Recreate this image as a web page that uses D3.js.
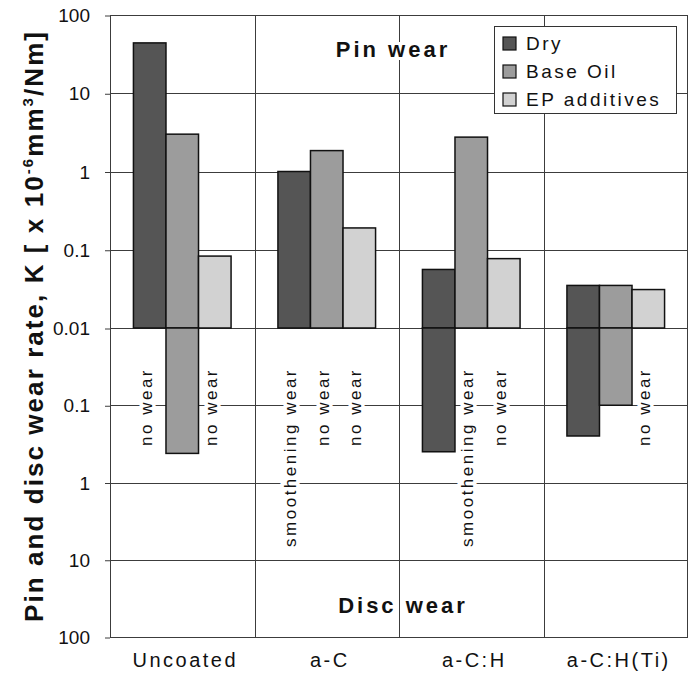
<!DOCTYPE html>
<html>
<head>
<meta charset="utf-8">
<script src="https://cdn.jsdelivr.net/npm/d3@7"></script>
<style>
  body { margin: 0; background: #fff; }
  text { font-family: "Liberation Sans", Arial, Helvetica, sans-serif; fill: #111; }
</style>
</head>
<body>
<svg id="chart" width="689" height="675"></svg>
<script>
// Coatings along the x axis, lubrication conditions as series
var coatings = ["Uncoated", "a-C", "a-C:H", "a-C:H(Ti)"];
var series = ["Dry", "Base Oil", "EP additives"];
var seriesColors = ["#555555", "#9c9c9c", "#d2d2d2"];

// Pin wear rates (x 10^-6 mm^3/Nm), one row per coating
var pinWear = [
    [44, 3.0, 0.083],
    [1.0, 1.85, 0.19],
    [0.056, 2.75, 0.077],
    [0.035, 0.035, 0.031]
];

// Disc wear rates, null where there was no measurable wear
var discWear = [
    [null, 0.42, null],
    [null, null, null],
    [0.40, null, null],
    [0.25, 0.10, null]
];

// Notes written into the disc half
var discNotes = [
    ["no wear", null, "no wear"],
    ["smoothening wear", "no wear", "no wear"],
    [null, "smoothening wear", "no wear"],
    [null, null, "no wear"]
];

var pinTicks = [0.01, 0.1, 1, 10, 100];
var discTicks = [0.1, 1, 10, 100];

var svg = d3.select("#chart");
var plotLeft = 110, plotRight = 688, plotTop = 15, plotMid = 328, plotBottom = 637;

var x0 = d3.scaleBand().domain(coatings).range([plotLeft, plotRight]);
var x1 = d3.scaleBand().domain(series).range([0, x0.bandwidth()]).paddingOuter(0.72);
var color = d3.scaleOrdinal().domain(series).range(seriesColors);

var yPin = d3.scaleLog().domain([0.01, 100]).range([plotMid, plotTop]);
var yDisc = d3.scaleLog().domain([0.01, 100]).range([plotMid, plotBottom]);

function fmt(d) { return d3.format("~g")(d); }

// Horizontal grid lines
var grid = svg.append("g").attr("stroke", "#3c3c3c").attr("stroke-width", 1);
grid.selectAll("line.pin")
    .data(pinTicks)
    .enter().append("line")
    .attr("x1", plotLeft).attr("x2", plotRight)
    .attr("y1", function(d) { return Math.round(yPin(d)) + 0.5; })
    .attr("y2", function(d) { return Math.round(yPin(d)) + 0.5; });
grid.selectAll("line.disc")
    .data(discTicks)
    .enter().append("line")
    .attr("x1", plotLeft).attr("x2", plotRight)
    .attr("y1", function(d) { return Math.round(yDisc(d)) + 0.5; })
    .attr("y2", function(d) { return Math.round(yDisc(d)) + 0.5; });

// Vertical dividers between coatings
grid.selectAll("line.div")
    .data(coatings.slice(1))
    .enter().append("line")
    .attr("x1", function(d) { return Math.round(x0(d)) + 0.5; })
    .attr("x2", function(d) { return Math.round(x0(d)) + 0.5; })
    .attr("y1", plotTop).attr("y2", plotBottom);

// Plot frame
svg.append("rect")
    .attr("x", plotLeft + 0.5).attr("y", plotTop + 0.5)
    .attr("width", plotRight - plotLeft - 1).attr("height", plotBottom - plotTop)
    .attr("fill", "none").attr("stroke", "#3c3c3c");

// Y axes (ticks + labels)
var axisPin = d3.axisLeft(yPin).tickValues(pinTicks).tickFormat(fmt).tickSize(5).tickPadding(15);
var axisDisc = d3.axisLeft(yDisc).tickValues(discTicks).tickFormat(fmt).tickSize(5).tickPadding(15);
[axisPin, axisDisc].forEach(function(ax) {
    var g = svg.append("g").attr("transform", "translate(" + plotLeft + ",0.5)").call(ax);
    g.select(".domain").remove();
    g.selectAll("line").attr("stroke", "#3c3c3c");
    g.selectAll("text")
        .style("font-family", "'Liberation Sans', Arial, sans-serif")
        .style("font-size", "19px").attr("fill", "#222");
});

// Groups for each coating
var groups = svg.selectAll("g.coat")
    .data(coatings)
    .enter().append("g")
    .attr("class", "coat")
    .attr("transform", function(d) { return "translate(" + x0(d) + ",0)"; });

// Pin wear bars (upwards)
groups.selectAll("rect.pin")
    .data(function(d, i) { return series.map(function(s, j) { return {s: s, v: pinWear[i][j]}; }); })
    .enter().append("rect")
    .attr("x", function(d) { return x1(d.s); })
    .attr("width", x1.bandwidth())
    .attr("y", function(d) { return yPin(d.v); })
    .attr("height", function(d) { return yPin(0.01) - yPin(d.v); })
    .attr("fill", function(d) { return color(d.s); })
    .attr("stroke", "#111").attr("stroke-width", 1.5);

// Disc wear bars (downwards)
groups.selectAll("rect.disc")
    .data(function(d, i) {
        return series.map(function(s, j) { return {s: s, v: discWear[i][j]}; })
            .filter(function(e) { return e.v != null; });
    })
    .enter().append("rect")
    .attr("x", function(d) { return x1(d.s); })
    .attr("width", x1.bandwidth())
    .attr("y", yDisc(0.01))
    .attr("height", function(d) { return yDisc(d.v) - yDisc(0.01); })
    .attr("fill", function(d) { return color(d.s); })
    .attr("stroke", "#111").attr("stroke-width", 1.5);

// Rotated notes in the disc half
groups.selectAll("text.note")
    .data(function(d, i) {
        return series.map(function(s, j) { return {s: s, t: discNotes[i][j]}; })
            .filter(function(e) { return e.t != null; });
    })
    .enter().append("text")
    .attr("transform", function(d) {
        return "translate(" + (x1(d.s) + x1.bandwidth() / 2) + ",368) rotate(-90)";
    })
    .attr("text-anchor", "end")
    .attr("dy", "0.12em")
    .style("font-size", "17px")
    .style("letter-spacing", "2.5px")
    .attr("stroke", "#fff").attr("stroke-width", 7)
    .attr("paint-order", "stroke")
    .text(function(d) { return d.t; });

// Coating labels under the plot
svg.selectAll("text.xlab")
    .data(coatings)
    .enter().append("text")
    .attr("class", "xlab")
    .attr("y", 667)
    .style("font-size", "20px")
    .style("letter-spacing", "2.5px")
    .text(function(d) { return d; })
    .each(function(d) {
        var w = this.getComputedTextLength();
        var cx = x0(d) + x0.bandwidth() / 2 + 3;
        var xPos = Math.min(cx - w / 2, plotRight - w);
        d3.select(this).attr("x", xPos);
    });

// Pin / disc wear headings
var divX = x0("a-C:H");
svg.append("text")
    .attr("x", divX - 6).attr("y", 57)
    .attr("text-anchor", "middle")
    .style("font-size", "22px").style("font-weight", "bold").style("letter-spacing", "3px")
    .attr("stroke", "#fff").attr("stroke-width", 6).attr("paint-order", "stroke")
    .text("Pin wear");
svg.append("text")
    .attr("x", divX + 4).attr("y", 613)
    .attr("text-anchor", "middle")
    .style("font-size", "22px").style("font-weight", "bold").style("letter-spacing", "3px")
    .attr("stroke", "#fff").attr("stroke-width", 6).attr("paint-order", "stroke")
    .text("Disc wear");

// Legend
var lg = svg.append("g").attr("transform", "translate(494,26)");
lg.append("rect")
    .attr("x", 0.5).attr("y", 0.5).attr("width", 182).attr("height", 87)
    .attr("fill", "#fff").attr("stroke", "#333");
var items = lg.selectAll("g.item")
    .data(series)
    .enter().append("g")
    .attr("transform", function(d, i) { return "translate(9," + (17 + i * 28) + ")"; });
items.append("rect")
    .attr("x", 0).attr("y", -6).attr("width", 13).attr("height", 13)
    .attr("fill", function(d) { return color(d); })
    .attr("stroke", "#111").attr("stroke-width", 1.2);
items.append("text")
    .attr("x", 23).attr("y", 7)
    .style("font-size", "19px").style("letter-spacing", "2.5px")
    .text(function(d) { return d; });

// Y axis title
var yt = svg.append("text")
    .attr("transform", "translate(43,327) rotate(-90)")
    .attr("text-anchor", "middle")
    .style("font-size", "26px").style("font-weight", "bold");
yt.append("tspan").text("Pin and disc wear rate, K [ x 10");
yt.append("tspan").attr("dy", "-10").style("font-size", "15px").text("-6");
yt.append("tspan").attr("dy", "10").text("mm");
yt.append("tspan").attr("dy", "-10").style("font-size", "15px").text("3");
yt.append("tspan").attr("dy", "10").text("/Nm]");
yt.attr("textLength", 590).attr("lengthAdjust", "spacing");
</script>
</body>
</html>
